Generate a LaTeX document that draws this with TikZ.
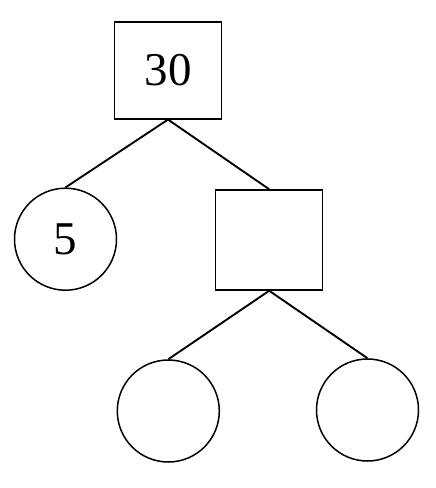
\documentclass[tikz,border=0pt]{standalone}
\usepackage{fontspec}
\setmainfont{Liberation Serif}
\begin{document}
\begin{tikzpicture}[x=1pt,y=-1pt,
  sq/.style={draw,line width=1.5pt,minimum width=107pt,minimum height=97pt,inner sep=0pt,font=\fontsize{47}{47}\selectfont},
  ci/.style={draw,circle,line width=1.5pt,minimum size=102pt,inner sep=0pt,font=\fontsize{47}{47}\selectfont},
  edge/.style={line width=1.9pt}]
\useasboundingbox (0,0) rectangle (436,488);
\node[sq] (top) at (168,70.3) {30};
\node[ci] (five) at (65.5,239.2) {5};
\node[sq,minimum height=100pt] (mid) at (269.2,240) {};
\node[ci] (bl) at (168.3,411) {};
\node[ci] (br) at (367.5,410) {};
\draw[edge] (top.south) -- (five.north);
\draw[edge] (top.south) -- (mid.north);
\draw[edge] (mid.south) -- (bl.north);
\draw[edge] (mid.south) -- (br.north);
\end{tikzpicture}
\end{document}
